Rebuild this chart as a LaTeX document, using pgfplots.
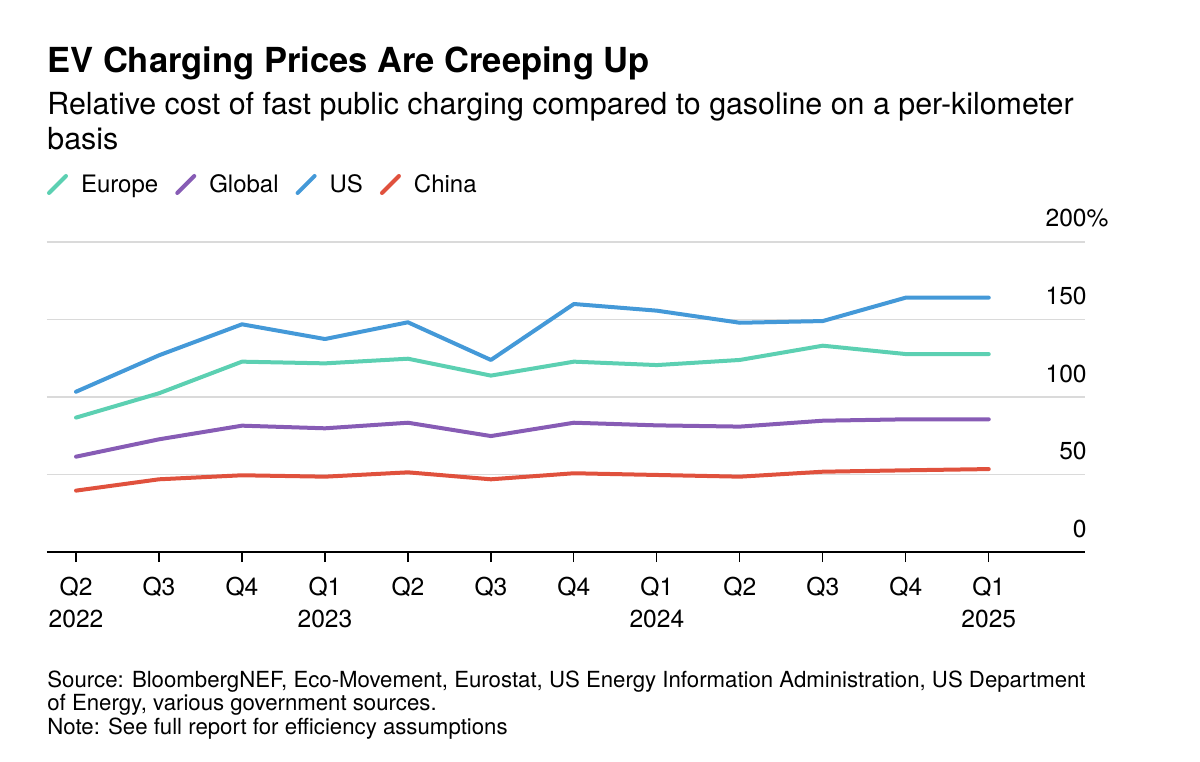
\documentclass[border=0pt]{standalone}
\usepackage{pgfplots}
\pgfplotsset{compat=1.18}
\usepackage{fontspec}
\setmainfont{TeX Gyre Heros}
\definecolor{cEU}{HTML}{5CD0B2}
\definecolor{cGL}{HTML}{875CB5}
\definecolor{cUS}{HTML}{4499D8}
\definecolor{cCN}{HTML}{E0513D}
\definecolor{gridc}{HTML}{DADADA}
\pgfplotstableread{
x EU GL US CN
0 86.7 61.5 103.4 39.6
1 102.4 72.7 126.9 46.9
2 122.8 81.5 146.9 49.5
3 121.7 79.8 137.4 48.6
4 124.7 83.4 148.2 51.4
5 113.8 74.8 123.9 46.9
6 122.8 83.4 160.0 50.8
7 120.6 81.7 155.7 49.7
8 123.9 80.9 147.9 48.6
9 133.1 84.7 149.0 51.8
10 127.7 85.6 164.1 52.7
11 127.7 85.6 164.1 53.5
}\datatable
\begin{document}
\begin{tikzpicture}[x=1pt,y=1pt]
\path (0,0) rectangle (600,380.5);
\node[anchor=base west, inner sep=0pt, font=\fontsize{17.25}{20}\selectfont\bfseries] at (23.5,344) {EV Charging Prices Are Creeping Up};
\node[anchor=base west, inner sep=0pt, font=\fontsize{15.2}{18}\selectfont] at (23.5,323) {Relative cost of fast public charging compared to gasoline on a per-kilometer};
\node[anchor=base west, inner sep=0pt, font=\fontsize{15.2}{18}\selectfont] at (23.5,305.5) {basis};
\node[anchor=base west, inner sep=0pt, font=\fontsize{11.1}{12}\selectfont] at (23.5,36.75) {Source: BloombergNEF, Eco-Movement, Eurostat, US Energy Information Administration, US Department};
\node[anchor=base west, inner sep=0pt, font=\fontsize{11.1}{12}\selectfont] at (23.5,25.25) {of Energy, various government sources.};
\node[anchor=base west, inner sep=0pt, font=\fontsize{11.1}{12}\selectfont] at (23.5,13.25) {Note: See full report for efficiency assumptions};
\begin{axis}[
  at={(23.5pt,104.5pt)}, anchor=south west,
  scale only axis, width=519pt, height=155pt,
  xmin=-0.35, xmax=12.16, ymin=0, ymax=200,
  axis x line*=bottom, axis y line*=right,
  y axis line style={draw=none},
  x axis line style={black, line width=1pt, -},
  xtick={0,...,11},
  xticklabels={Q2\\2022,Q3,Q4,Q1\\2023,Q2,Q3,Q4,Q1\\2024,Q2,Q3,Q4,Q1\\2025},
  xtick style={black, line width=0.6pt},
  major tick length=5pt, tick align=outside,
  ytick={0,50,100,150,200}, ytick style={draw=none},
  yticklabels={0,50,100,150,200\rlap{\%}},
  yticklabel style={anchor=base east, inner sep=0pt, yshift=7.5pt, xshift=-4pt, font=\fontsize{12.3}{15}\selectfont},
  ymajorgrids, grid style={gridc, line width=0.75pt},
  xticklabel style={align=center, font=\fontsize{12.3}{16}\selectfont, anchor=north, inner sep=0pt, yshift=-7.5pt},
  legend style={at={(axis description cs:0,1.1839)}, anchor=west, draw=none, fill=none, inner sep=0pt, outer sep=0pt, font=\fontsize{12}{14}\selectfont, /tikz/every even column/.append style={column sep=6.5pt}, /tikz/every odd column/.append style={column sep=4.5pt}},
  legend columns=-1,
  legend cell align=left,
  legend image code/.code={\draw[#1, line width=2pt, line cap=round] (0pt,-4pt) -- (8.5pt,4.5pt);},
  every axis plot/.append style={line width=2pt, line join=round, line cap=round, no marks},
  clip=false,
]
\addplot[cEU] table[x=x,y=EU] {\datatable};
\addlegendentry{Europe}
\addplot[cGL] table[x=x,y=GL] {\datatable};
\addlegendentry{Global}
\addplot[cUS] table[x=x,y=US] {\datatable};
\addlegendentry{US}
\addplot[cCN] table[x=x,y=CN] {\datatable};
\addlegendentry{China}
\end{axis}
\end{tikzpicture}
\end{document}
